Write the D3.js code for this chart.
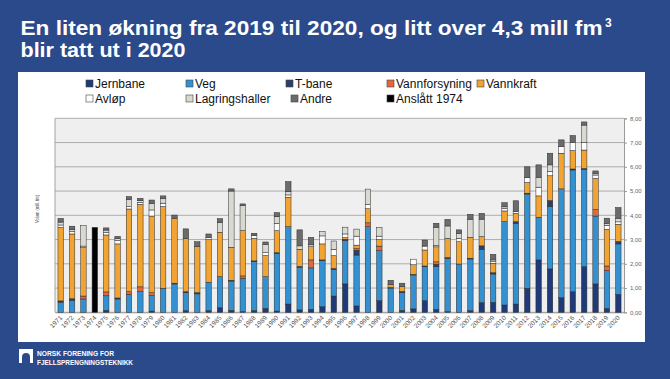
<!DOCTYPE html>
<html><head><meta charset="utf-8">
<script src="https://cdn.jsdelivr.net/npm/d3@7"></script>
<style>html,body{margin:0;padding:0;background:#2b4a8c;} svg{display:block;}</style>
</head><body>
<svg id="c" width="670" height="379"></svg>
<script>
const years = ["1971","1972","1973","1974","1975","1976","1977","1978","1979","1980",
"1981","1982","1983","1984","1985","1986","1987","1988","1989","1990",
"1991","1992","1993","1994","1995","1996","1997","1998","1999","2000",
"2001","2002","2003","2004","2005","2006","2007","2008","2009","2010",
"2011","2012","2013","2014","2015","2016","2017","2018","2019","2020"];

const jernbane = [0,0,0,0,0.08,0,0,0,0.05,0, 0,0.07,0,0.07,0.19,0.08,0.03,0.07,0.16,0.05,
0.34,0.1,0.12,0.23,0.67,1.17,0.26,0,0.48,0, 0.08,0.14,0.48,0.12,0.03,0,0.07,0.4,0.41,0.3,
0.34,0.99,2.16,1.79,0.6,0.85,1.88,1.17,0.16,0.74];
const veg = [0.42,0.5,0.55,0,0.6,0.55,0.74,0.85,0.64,0.99, 1.17,0.74,0.76,1.17,1.28,1.21,1.37,2.02,1.31,2.38,
3.19,1.76,1.71,1.9,1.1,1.79,2.1,3.53,2.06,1.0, 0.73,1.4,1.4,1.76,2.2,1.99,2.13,2.2,1.17,3.44,
3.33,3.89,1.76,2.57,4.49,5.02,4.02,2.8,1.56,2.08];
const tbane = [0.05,0.06,0,0,0,0.04,0,0,0,0, 0.03,0.04,0.05,0,0,0.03,0,0.03,0,0.03,
0,0.03,0,0.03,0.04,0.05,0.2,0,0,0.02, 0.05,0.02,0.03,0.1,0.03,0,0.03,0.14,0.05,0,
0.07,0.03,0,0.25,0,0.04,0.03,0,0,0.1];
const vannforsyning = [0,0,0.12,0,0.16,0,0.11,0.2,0.12,0, 0,0,0,0,0,0,0.1,0,0,0,
0,0,0.33,0,0,0,0.07,0.16,0.19,0, 0,0,0,0.1,0,0,0,0,0,0,
0,0,0,0,0,0,0,0.27,0.19,0];
const vannkraft = [3.03,2.67,2.0,0,2.35,2.23,3.41,3.4,3.16,3.37, 2.68,2.2,1.9,1.76,1.83,1.36,1.87,0.93,0.87,0.91,
1.21,0.71,0.55,0.66,0.53,0.07,0.14,0.58,0.27,0.12, 0.2,0.4,0.66,0.62,0.79,0.92,0.86,0.38,0.39,0.44,
0.34,0.44,0.88,1.02,1.47,0.76,0.76,1.28,1.51,0.71];
const avlop = [0.1,0.1,0.06,0,0.1,0.14,0.1,0.08,0.25,0.14, 0,0,0,0.08,0,0,0,0.11,0.12,0.3,
0.1,0,0.07,0.33,0.26,0.15,0.37,0.18,0.14,0, 0,0.23,0.16,0.05,0,0.14,0,0,0.07,0.1,
0.07,0.2,0.36,0.18,0.28,0.34,0.32,0.14,0.17,0.1];
const lagring = [0.12,0.08,0.84,0,0.1,0.08,0.3,0.07,0.27,0.2, 0,0,0,0,0.4,2.32,1.03,0,0.34,0.27,
0.14,0.14,0,0.19,0.34,0.28,0.29,0.63,0.36,0, 0,0,0,0.76,0.51,0.21,0.75,0.72,0.07,0.07,
0,0,0.41,0.27,0,0,0.71,0.07,0.08,0.15];
const andre = [0.15,0.14,0,0,0.09,0.09,0.11,0.1,0.14,0.1, 0.13,0.39,0.2,0.15,0.16,0.09,0.07,0.1,0.1,0.17,
0.41,0.66,0.31,0,0,0,0,0,0,0.18, 0.14,0,0.25,0.16,0.27,0.14,0.2,0.24,0.23,0.17,
0.45,0.45,0.51,0.48,0.27,0.28,0.13,0.1,0.21,0.44];
const anslatt = [0,0,0,3.5,0,0,0,0,0,0, 0,0,0,0,0,0,0,0,0,0,
0,0,0,0,0,0,0,0,0,0, 0,0,0,0,0,0,0,0,0,0,
0,0,0,0,0,0,0,0,0,0];

const seriesNames = ["Jernbane","Veg","T-bane","Vannforsyning","Vannkraft","Avløp","Lagringshaller","Andre","Anslått 1974"];
const seriesValues = [jernbane,veg,tbane,vannforsyning,vannkraft,avlop,lagring,andre,anslatt];
const colors = ["#1f3a78","#3391d2","#2b3f68","#e2683c","#f2a432","#ffffff","#d9d9d2","#6b6b6b","#000000"];
const yTicks = [0,1,2,3,4,5,6,7,8];
const yTickLabels = ["0,00","1,00","2,00","3,00","4,00","5,00","6,00","7,00","8,00"];
const titleLine1 = "En liten økning fra 2019 til 2020, og litt over 4,3 mill fm";
const titleSup = "3";
const titleLine2 = "blir tatt ut i 2020";
const yTitle = "Volum (mill. fm)";
const logo1 = "NORSK FORENING FOR";
const logo2 = "FJELLSPRENGNINGSTEKNIKK";

const rows = years.map((y,i)=>{const o={year:y}; seriesNames.forEach((s,k)=>o[s]=seriesValues[k][i]); return o;});
const stacked = d3.stack().keys(seriesNames)(rows);

const svg = d3.select("#c");
svg.append("rect").attr("width",670).attr("height",379).attr("fill","#2b4a8c");
// white panel
svg.append("rect").attr("x",18).attr("y",72).attr("width",627).attr("height",270).attr("fill","#ffffff");

// title
svg.append("text").attr("x",20.5).attr("y",35).attr("fill","#fff")
  .attr("font-family","Liberation Sans, Arial, sans-serif").attr("font-weight","bold").attr("font-size",20)
  .attr("textLength",582).attr("lengthAdjust","spacingAndGlyphs").text(titleLine1);
svg.append("text").attr("x",605).attr("y",27).attr("fill","#fff")
  .attr("font-family","Liberation Sans, Arial, sans-serif").attr("font-weight","bold").attr("font-size",12).text(titleSup);
svg.append("text").attr("x",20.5).attr("y",57).attr("fill","#fff")
  .attr("font-family","Liberation Sans, Arial, sans-serif").attr("font-weight","bold").attr("font-size",20)
  .attr("textLength",165).attr("lengthAdjust","spacingAndGlyphs").text(titleLine2);

// scales
const x = d3.scaleBand().domain(years).range([55,624]).paddingInner(0.52).paddingOuter(0.26);
const y = d3.scaleLinear().domain([0,8]).range([312.3,118.3]);

// plot bg
svg.append("rect").attr("x",55).attr("y",y(8)).attr("width",569).attr("height",y(0)-y(8)).attr("fill","#efefef");
// grid
svg.append("g").selectAll("line").data(yTicks).join("line")
  .attr("x1",55).attr("x2",624).attr("y1",d=>y(d)).attr("y2",d=>y(d))
  .attr("stroke","#a6a6a6").attr("stroke-width",0.9);
svg.append("line").attr("x1",55).attr("x2",55).attr("y1",y(8)).attr("y2",y(0)).attr("stroke","#9a9a9a").attr("stroke-width",0.9);

// right axis
const yAxis = d3.axisRight(y).tickValues(yTicks).tickFormat((d,i)=>yTickLabels[i]).tickSize(3).tickPadding(3);
const ya = svg.append("g").attr("transform","translate(624,0)").call(yAxis);
ya.select(".domain").attr("stroke","#9a9a9a");
ya.selectAll(".tick line").attr("stroke","#9a9a9a");
ya.selectAll("text").attr("font-family","Liberation Sans, Arial, sans-serif").attr("font-size",6).attr("fill","#666");

// bottom axis
const xAxis = d3.axisBottom(x).tickSize(0).tickPadding(0);
const xa = svg.append("g").attr("transform",`translate(0,${y(0)})`).call(xAxis);
xa.select(".domain").attr("stroke","#9a9a9a");
xa.selectAll("text").attr("font-family","Liberation Sans, Arial, sans-serif").attr("font-size",6.5).attr("fill","#555")
  .attr("text-anchor","end").attr("dy",0).attr("y",0)
  .attr("transform","translate(2,6) rotate(-45)");

// y title
svg.append("text").attr("transform","translate(39,209) rotate(-90)").attr("text-anchor","middle")
  .attr("font-family","Liberation Sans, Arial, sans-serif").attr("font-size",5).attr("fill","#444")
  .attr("textLength",28).attr("lengthAdjust","spacingAndGlyphs").text(yTitle);

// bars
const g = svg.append("g");
stacked.forEach((s,k)=>{
  g.append("g").attr("fill",colors[k]).selectAll("rect").data(s.filter(d=>d[1]-d[0]>0)).join("rect")
    .attr("x",d=>x(d.data.year)).attr("width",x.bandwidth())
    .attr("y",d=>y(d[1])).attr("height",d=>y(d[0])-y(d[1]))
    .attr("stroke","#2a2a2a").attr("stroke-width",0.5);
});

// legend
const legPos = [[86,88],[186,88],[286,88],[387,88],[477,88],[86,103],[186,103],[291,103],[387,103]];
const lg = svg.append("g").attr("font-family","Liberation Sans, Arial, sans-serif").attr("font-size",12).attr("fill","#111");
seriesNames.forEach((n,k)=>{
  const [lx,ly] = legPos[k];
  lg.append("rect").attr("x",lx).attr("y",ly-8).attr("width",7).attr("height",7)
    .attr("fill",colors[k]).attr("stroke","#444").attr("stroke-width",0.6);
  lg.append("text").attr("x",lx+9).attr("y",ly).text(n);
});

// logo
const lgo = svg.append("g");
lgo.append("rect").attr("x",19).attr("y",349).attr("width",14).attr("height",14).attr("fill","#fff");
lgo.append("path").attr("d","M22,363 L22,357 A4,4 0 0 1 30,357 L30,363 Z").attr("fill","#2b4a8c");
lgo.append("text").attr("x",37).attr("y",356).attr("fill","#fff").attr("font-family","Liberation Sans, Arial, sans-serif")
  .attr("font-weight","bold").attr("font-size",7.2).attr("textLength",77).attr("lengthAdjust","spacingAndGlyphs").text(logo1);
lgo.append("text").attr("x",37).attr("y",364.5).attr("fill","#fff").attr("font-family","Liberation Sans, Arial, sans-serif")
  .attr("font-weight","bold").attr("font-size",7.2).attr("textLength",96).attr("lengthAdjust","spacingAndGlyphs").text(logo2);
</script>
</body></html>
